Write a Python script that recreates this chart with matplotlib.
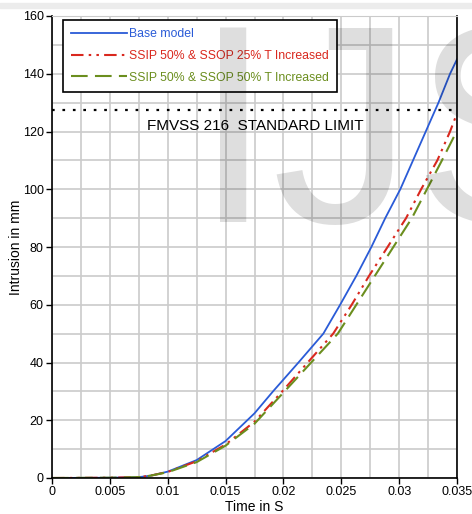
import numpy as np
import matplotlib.pyplot as plt
from matplotlib.patches import Rectangle

# values (time in s, intrusion in mm)
base_t = [0, 0.005, 0.0075, 0.0085, 0.01, 0.0125, 0.015, 0.0175, 0.0191, 0.0213,
          0.02345, 0.0249, 0.0263, 0.0276, 0.0288, 0.0301, 0.0312, 0.0323, 0.0334, 0.0344, 0.035]
base_v = [0, 0.1, 0.3, 0.8, 2.2, 6.2, 12.8, 22.4, 30, 40,
          50, 60, 70, 80, 90, 100, 110, 120, 130, 140, 145]

ssop25_t = [0, 0.005, 0.0075, 0.0085, 0.01, 0.0125, 0.015, 0.0175, 0.0199, 0.0221,
            0.0243, 0.0259, 0.0274, 0.0290, 0.0306, 0.0319, 0.0333, 0.0344, 0.035]
ssop25_v = [0, 0.1, 0.3, 0.8, 2.1, 5.8, 11.6, 19.5, 30, 40,
            50, 60, 70, 80, 90, 100, 110, 120, 126.3]

ssop50_t = [0, 0.005, 0.0075, 0.0085, 0.01, 0.0125, 0.015, 0.0175, 0.0201, 0.0224,
            0.0247, 0.0263, 0.0279, 0.0295, 0.0311, 0.0324, 0.0337, 0.035]
ssop50_v = [0, 0.1, 0.3, 0.8, 2.0, 5.5, 11.2, 18.8, 30, 40,
            50, 60, 70, 80, 90, 100, 110, 120.3]

limit = 127.5
labels = ["Base model", "SSIP 50% & SSOP 25% T Increased", "SSIP 50% & SSOP 50% T Increased"]
colors = ["#2a5bd7", "#d9281e", "#6b8e1e"]

plt.rcParams['font.family'] = ['Liberation Sans', 'DejaVu Sans']

fig = plt.figure(figsize=(4.72, 5.14), dpi=100)
ax = fig.add_axes([52/472, 36/514, 405/472, 462/514])
ax.set_facecolor('none')

# thin gray strip at the top of the picture
fig.patches.append(Rectangle((0, 1 - 8/514), 1, 5/514, transform=fig.transFigure,
                             color='#ececec', zorder=-5))

ax.plot(base_t, base_v, color=colors[0], lw=1.3, label=labels[0])
ax.plot(ssop25_t, ssop25_v, color=colors[1], lw=1.5, dashes=(6, 2.5, 1.2, 2.5, 1.2, 2.5), label=labels[1])
ax.plot(ssop50_t, ssop50_v, color=colors[2], lw=1.5, dashes=(8, 3.5), label=labels[2])

ax.axhline(limit, color='k', lw=1.6, ls=(0, (1.2, 3.5)))
ax.text(0.01755, 122, "FMVSS 216  STANDARD LIMIT", ha='center', va='center', fontsize=11)

ax.set_xlim(0, 0.035)
ax.set_ylim(0, 160)
ax.set_xticks(np.arange(0, 0.0351, 0.005))
ax.set_xticklabels(["0", "0.005", "0.01", "0.015", "0.02", "0.025", "0.03", "0.035"])
ax.set_yticks(np.arange(0, 161, 20))
ax.set_xticks(np.arange(0, 0.0351, 0.0025), minor=True)
ax.set_yticks(np.arange(0, 161, 10), minor=True)
ax.grid(True, which='both', color='#cbcbcb', lw=1.2)
ax.set_axisbelow(True)
ax.tick_params(which='major', length=4, width=1, labelsize=9, pad=2)
ax.tick_params(which='minor', length=0)
for s in ['left', 'bottom', 'right']:
    ax.spines[s].set_linewidth(1.2)
ax.spines['top'].set_color('#cbcbcb')

ax.set_xlabel("Time in S", fontsize=10, labelpad=1)
ax.set_ylabel("Intrusion in mm", fontsize=10, labelpad=0)

leg = ax.legend(loc='upper left', bbox_to_anchor=(0.027, 0.991), borderaxespad=0,
                fontsize=8.8, handlelength=4.6, handletextpad=0.15, fancybox=False,
                framealpha=1, edgecolor='k', borderpad=0.65, labelspacing=0.8)
leg.get_frame().set_linewidth(1.2)
for txt, c in zip(leg.get_texts(), colors):
    txt.set_color(c)

# watermark
fig.text(194/472, 1 - 222/514, "IJS", fontsize=203, family='Liberation Sans',
         color='k', alpha=0.13, va='baseline', ha='left', zorder=10)

fig.savefig("out.png", dpi=100)
